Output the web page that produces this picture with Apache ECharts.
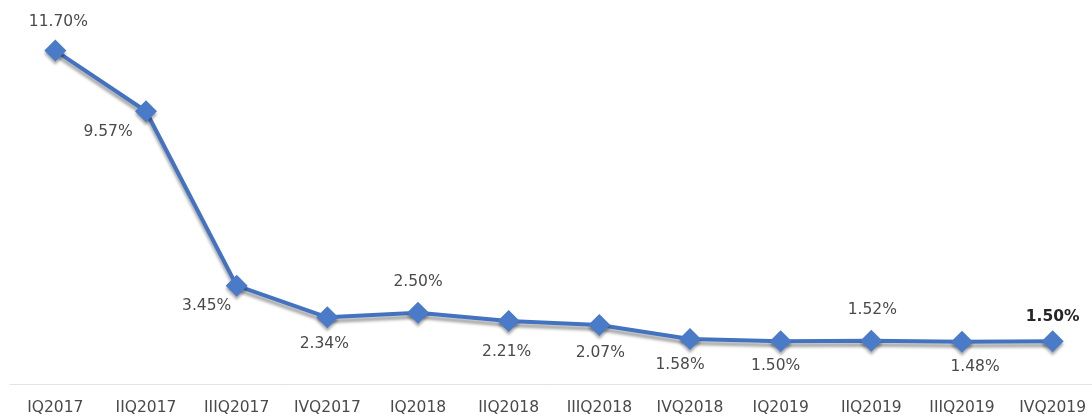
<!DOCTYPE html>
<html>
<head>
<meta charset="utf-8">
<style>
  html, body { margin: 0; padding: 0; background: #fff; }
  #chart { width: 1092px; height: 416px; }
</style>
<script src="https://cdn.jsdelivr.net/npm/echarts@6/dist/echarts.min.js"></script>
</head>
<body>
<div id="chart"></div>
<script>
// quarters on the x axis
const quarters = ['IQ2017', 'IIQ2017', 'IIIQ2017', 'IVQ2017', 'IQ2018', 'IIQ2018',
  'IIIQ2018', 'IVQ2018', 'IQ2019', 'IIQ2019', 'IIIQ2019', 'IVQ2019']
// rate per quarter (%)
const rates = [11.70, 9.57, 3.45, 2.34, 2.50, 2.21, 2.07, 1.58, 1.50, 1.52, 1.48, 1.50]

// where each value label sits relative to its marker
const labelOffsets = [[3, -29], [-38, 21], [-30, 20], [-3, 27], [0, -31], [-2, 31],
  [1, 28], [-10, 26], [-5, 25], [1, -31], [13, 25], [0, -24]]

const chart = echarts.init(document.getElementById('chart'))
const font = 'DejaVu Sans, sans-serif'

const points = rates.map((v, i) => ({
  value: v,
  label: {
    offset: labelOffsets[i],
    fontWeight: i === rates.length - 1 ? 'bold' : 'normal',
    color: i === rates.length - 1 ? '#262626' : '#4a4a4a'
  }
}))

chart.setOption({
  animation: false,
  grid: { top: 42, bottom: 32, left: 10, right: -6, outerBoundsMode: 'none' },
  xAxis: {
    type: 'category',
    data: quarters,
    axisLine: { lineStyle: { color: '#e3e3e3', width: 1 } },
    axisTick: { show: false },
    axisLabel: {
      color: '#4a4a4a',
      fontSize: 15.5,
      fontFamily: font,
      margin: 16
    }
  },
  yAxis: {
    type: 'value',
    min: 0,
    max: 12,
    show: false
  },
  series: [{
    type: 'line',
    data: points,
    symbol: 'diamond',
    symbolSize: 22,
    lineStyle: {
      color: '#4373c0',
      width: 4,
      shadowColor: 'rgba(0,0,0,0.35)',
      shadowBlur: 3,
      shadowOffsetY: 4
    },
    itemStyle: {
      color: '#4a7bc8',
      shadowColor: 'rgba(0,0,0,0.35)',
      shadowBlur: 3,
      shadowOffsetY: 3
    },
    label: {
      show: true,
      position: 'inside',
      formatter: p => p.value.toFixed(2) + '%',
      fontSize: 15.5,
      fontFamily: font
    }
  }]
})
</script>
</body>
</html>
